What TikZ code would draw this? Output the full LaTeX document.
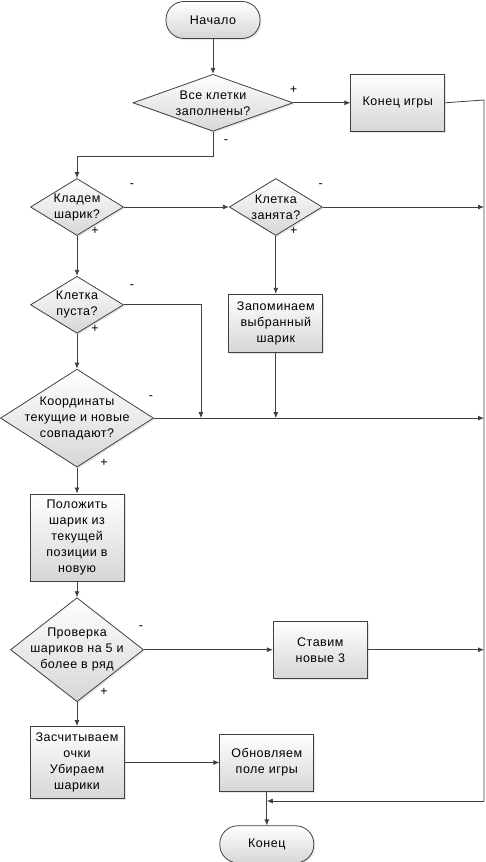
\documentclass[tikz,border=0pt]{standalone}
\usepackage{fontspec}
\setmainfont{Liberation Sans}[LetterSpace=4]
\usetikzlibrary{positioning,shapes,arrows.meta,shadows,calc}

\tikzstyle{base}     = [draw=black!75, line width=0.8pt, top color=white, bottom color=black!16,
                        drop shadow={opacity=0.2, shadow xshift=1.5pt, shadow yshift=-1.5pt},
                        font=\fontsize{12.5pt}{16pt}\selectfont, align=center, inner sep=0pt]
\tikzstyle{terminal} = [base, rectangle, rounded corners=18pt, minimum width=94pt, minimum height=37pt]
\tikzstyle{block}    = [base, rectangle, minimum width=94pt, minimum height=57pt]
\tikzstyle{decision} = [base, diamond, minimum width=93pt, minimum height=57pt]
\tikzstyle{dtext}    = [align=center, inner sep=0pt, font=\fontsize{12.5pt}{16pt}\selectfont]
\tikzstyle{sign}     = [inner sep=0pt, font=\fontsize{12.5pt}{14pt}\selectfont]
\tikzstyle{conn}     = [draw=black!75, line width=0.8pt]
\tikzstyle{arr}      = [conn, -{Latex[length=6pt,width=5pt]}]

\begin{document}
\begin{tikzpicture}[x=1pt, y=1pt]
      \useasboundingbox (0,0) rectangle (486,-862);

      %%%%%%%%%%%%%%%%%%%%%%%%%%%%%%%%%%%%%%%%%%%%%%%%%
      % BLOCKS
      %%%%%%%%%%%%%%%%%%%%%%%%%%%%%%%%%%%%%%%%%%%%%%%%%
      \node[terminal] (START) at (213,-20) {Начало};
      \node[decision, minimum width=160pt, below=35pt of START, label={[dtext]center:Все клетки\\заполнены?}] (FULL) {};
      \node[block, right=57pt of FULL] (OVER) {Конец игры};
      \node[decision, label={[dtext]center:Кладем\\шарик?}] (PUT) at (77,-207) {};
      \node[decision, right=105pt of PUT, label={[dtext]center:Клетка\\занята?}] (BUSY) {};
      \node[block, minimum height=58pt, below=58pt of BUSY] (MEM) {Запоминаем\\выбранный\\шарик};
      \node[decision, below=40pt of PUT, label={[dtext]center:Клетка\\пуста?}] (EMPTY) {};
      \node[decision, minimum width=153pt, minimum height=98pt, below=35pt of EMPTY, label={[dtext]center:Координаты\\текущие и новые\\совпадают?}] (SAME) {};
      \node[block, minimum height=87pt, below=26pt of SAME] (MOVE) {Положить\\шарик из\\текущей\\позиции в\\новую};
      \node[decision, minimum width=133pt, minimum height=104pt, below=16pt of MOVE, label={[dtext]center:Проверка\\шариков на 5 и\\более в ряд}] (CHECK) {};
      \node[block, right=129pt of CHECK] (NEW) {Ставим\\новые 3};
      \node[block, minimum height=72pt, below=24pt of CHECK] (SCORE) {Засчитываем\\очки\\Убираем\\шарики};
      \node[block, right=95pt of SCORE] (UPD) {Обновляем\\поле игры};
      \node[terminal, below=34pt of UPD] (END) {Конец};

      %%%%%%%%%%%%%%%%%%%%%%%%%%%%%%%%%%%%%%%%%%%%%%%%%
      % ARROWS
      %%%%%%%%%%%%%%%%%%%%%%%%%%%%%%%%%%%%%%%%%%%%%%%%%
      \coordinate (RT) at (484,-100);
      \coordinate (RB) at (484,-801);
      \draw[arr] (START) -- (FULL);
      \draw[arr] (FULL) -- (OVER);
      \draw[arr] (FULL.south) -- ++(0,-25) -| (PUT.north);
      \draw[arr] (PUT) -- (BUSY);
      \draw[arr] (PUT) -- (EMPTY);
      \draw[arr] (BUSY) -- (MEM);
      \draw[arr] (EMPTY) -- (SAME);
      \draw[arr] (SAME) -- (MOVE);
      \draw[arr] (MOVE) -- (CHECK);
      \draw[arr] (CHECK) -- (NEW);
      \draw[arr] (CHECK) -- (SCORE);
      \draw[arr] (SCORE) -- (UPD);
      \draw[arr] (UPD) -- (END);
      \draw[arr] (MEM.south) -- (MEM.south |- SAME.east);
      \draw[arr] (EMPTY.east) -- ++(77,0) coordinate (E1) -- (E1 |- SAME.east);

      % right rail
      \draw[conn] (OVER.east) -- (RT) -- (RB);
      \draw[arr] (RB) -- (RB -| UPD.south);
      \draw[arr] (BUSY.east) -- (BUSY.east -| RT);
      \draw[arr] (SAME.east) -- (SAME.east -| RT);
      \draw[arr] (NEW.east) -- (NEW.east -| RT);

      %%%%%%%%%%%%%%%%%%%%%%%%%%%%%%%%%%%%%%%%%%%%%%%%%
      % SIGNS
      %%%%%%%%%%%%%%%%%%%%%%%%%%%%%%%%%%%%%%%%%%%%%%%%%
      \node[sign] (FULLY)  at ($(FULL.east)+(0,13)$)    {+};
      \node[sign] (FULLN)  at ($(FULL.south)+(13,-10)$) {-};
      \node[sign] (PUTN)   at ($(PUT.east)+(8,21)$)     {-};
      \node[sign] (PUTY)   at ($(PUT.south)+(18,5)$)    {+};
      \node[sign] (BUSYN)  at ($(BUSY.east)+(-2,21)$)   {-};
      \node[sign] (BUSYY)  at ($(BUSY.south)+(18,5)$)   {+};
      \node[sign] (EMPTYN) at ($(EMPTY.east)+(8,18)$)   {-};
      \node[sign] (EMPTYY) at ($(EMPTY.south)+(18,5)$)  {+};
      \node[sign] (SAMEN)  at ($(SAME.east)+(-3,21)$)   {-};
      \node[sign] (SAMEY)  at ($(SAME.south)+(27,5)$)   {+};
      \node[sign] (CHECKN) at ($(CHECK.east)+(-3,22)$)  {-};
      \node[sign] (CHECKY) at ($(CHECK.south)+(27,10)$) {+};

\end{tikzpicture}
\end{document}
